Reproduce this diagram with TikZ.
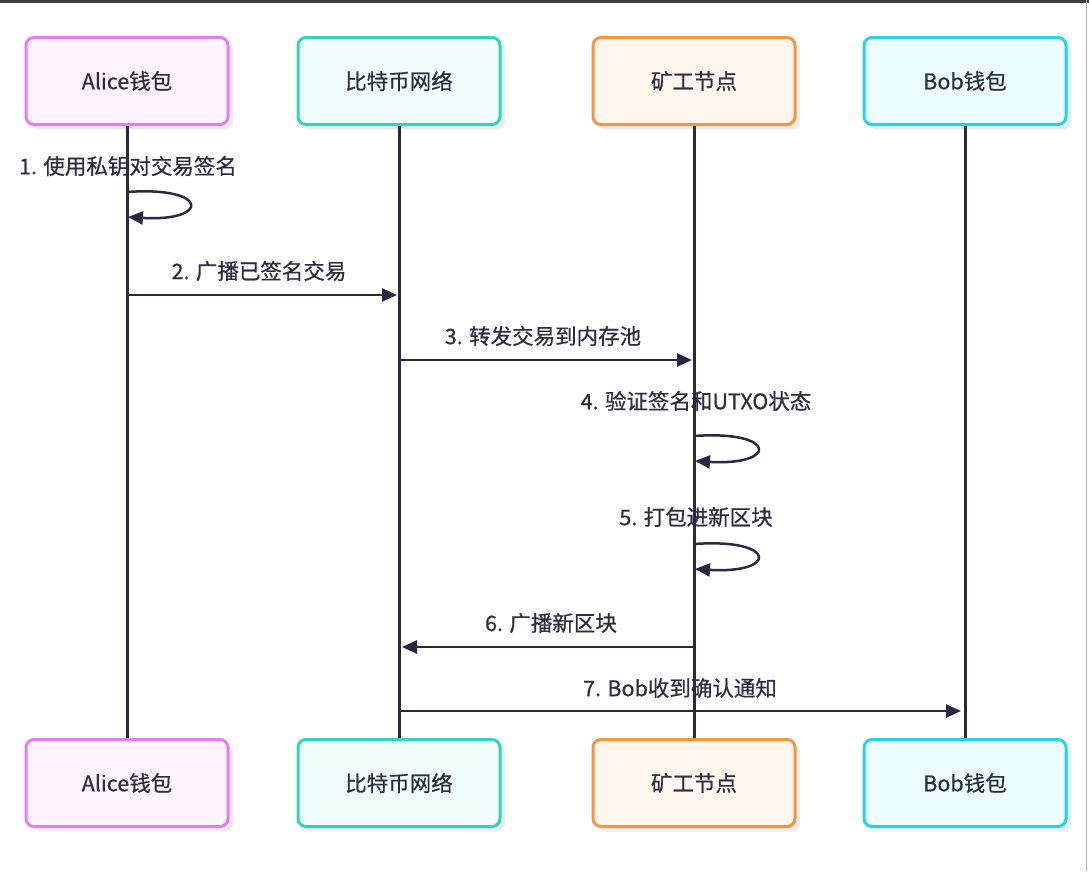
\documentclass[tikz,border=0pt]{standalone}
\usepackage{fontspec}
\setmainfont{Noto Sans CJK SC}[FakeBold=0.6]
\usetikzlibrary{arrows.meta}
\definecolor{ink}{HTML}{2A2840}
\definecolor{txt}{HTML}{2E2C44}
\definecolor{shadowc}{HTML}{EDEDED}
\definecolor{aliceD}{HTML}{E879F9}\definecolor{aliceF}{HTML}{FDF4FF}
\definecolor{netD}{HTML}{2DD4BF}\definecolor{netF}{HTML}{F0FDFA}
\definecolor{minD}{HTML}{FB923C}\definecolor{minF}{HTML}{FFF7ED}
\definecolor{bobD}{HTML}{22D3EE}\definecolor{bobF}{HTML}{ECFEFF}
\tikzset{
  actor/.style={rounded corners=8pt, line width=3pt, minimum width=202pt, minimum height=87pt,
    font=\fontsize{21.5}{25}\selectfont, text=txt, inner sep=0pt,
    preaction={fill=shadowc, draw=none, transform canvas={shift={(5pt,-5pt)}}}},
  life/.style={draw=ink, line width=3pt},
  msg/.style={draw=ink, line width=2.5pt, -{Triangle[length=15pt,width=13pt]}},
  lbl/.style={font=\fontsize{21.5}{25}\selectfont, text=txt, inner sep=0pt}
}
\begin{document}
\begin{tikzpicture}[x=1pt,y=-1pt]
\useasboundingbox (0,0) rectangle (1089,871);
\fill[white] (0,0) rectangle (1089,871);
\fill[black!75] (0,0) rectangle (1089,3);
\draw[gray!60, line width=1pt] (1086.5,0) -- (1086.5,871);
% actors top
\node[actor, draw=aliceD, fill=aliceF] (aT) at (127,81) {Alice钱包};
\node[actor, draw=netD, fill=netF] (nT) at (399,81) {比特币网络};
\node[actor, draw=minD, fill=minF] (mT) at (694,81) {矿工节点};
\node[actor, draw=bobD, fill=bobF] (bT) at (965,81) {Bob钱包};
% actors bottom
\node[actor, draw=aliceD, fill=aliceF] (aB) at (127,783) {Alice钱包};
\node[actor, draw=netD, fill=netF] (nB) at (399,783) {比特币网络};
\node[actor, draw=minD, fill=minF] (mB) at (694,783) {矿工节点};
\node[actor, draw=bobD, fill=bobF] (bB) at (965,783) {Bob钱包};
% lifelines
\draw[life] (aT.south) -- (aB.north);
\draw[life] (nT.south) -- (nB.north);
\draw[life] (mT.south) -- (mB.north);
\draw[life] (bT.south) -- (bB.north);
% 1 self
\node[lbl] (l1) at (128,166) {1. 使用私钥对交易签名};
\coordinate (s1a) at (127,192); \coordinate (s1b) at (128,217);
\draw[msg] (s1a) .. controls (210,186) and (210,222) .. (s1b);
% 2
\node[lbl] (l2) at (259,271) {2. 广播已签名交易};
\coordinate (m2a) at (127,295); \coordinate (m2b) at (397,295);
\draw[msg] (m2a) -- (m2b);
% 3
\node[lbl] (l3) at (543,336) {3. 转发交易到内存池};
\coordinate (m3a) at (399,360); \coordinate (m3b) at (692,360);
\draw[msg] (m3a) -- (m3b);
% 4 self
\node[lbl] (l4) at (696,401) {4. 验证签名和UTXO状态};
\coordinate (s4a) at (694,436); \coordinate (s4b) at (695,461);
\draw[msg] (s4a) .. controls (778,430) and (778,466) .. (s4b);
% 5 self
\node[lbl] (l5) at (696,517) {5. 打包进新区块};
\coordinate (s5a) at (694,544); \coordinate (s5b) at (695,569);
\draw[msg] (s5a) .. controls (778,538) and (778,574) .. (s5b);
% 6
\node[lbl] (l6) at (551,623) {6. 广播新区块};
\coordinate (m6a) at (694,647); \coordinate (m6b) at (402,647);
\draw[msg] (m6a) -- (m6b);
% 7
\node[lbl] (l7) at (680,688) {7. Bob收到确认通知};
\coordinate (m7a) at (399,711); \coordinate (m7b) at (961,711);
\draw[msg] (m7a) -- (m7b);
\end{tikzpicture}
\end{document}
